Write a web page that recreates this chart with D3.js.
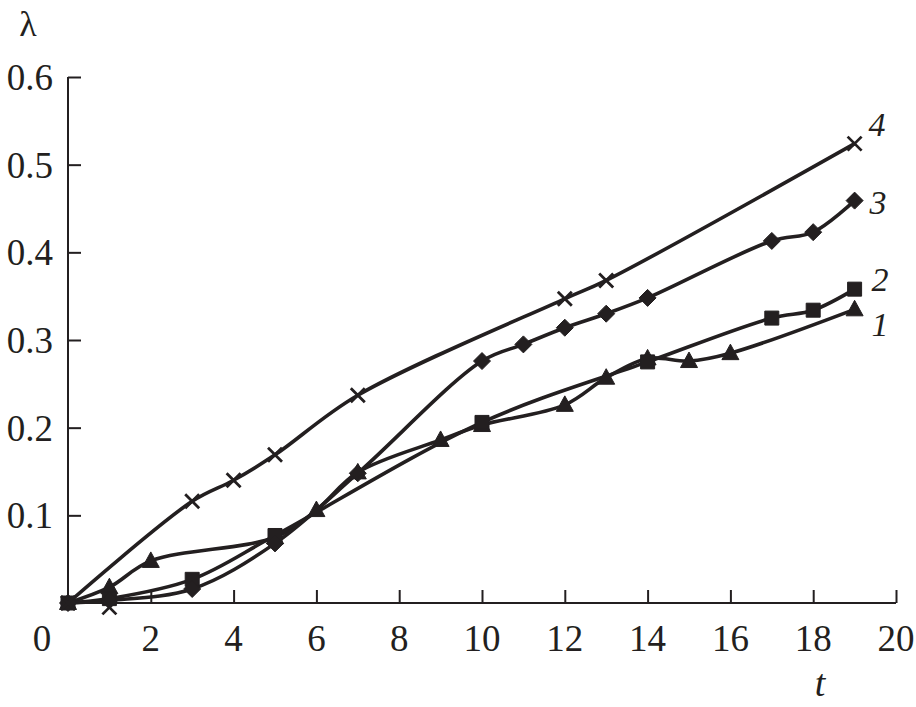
<!DOCTYPE html>
<html>
<head>
<meta charset="utf-8">
<script src="https://cdn.jsdelivr.net/npm/d3@7"></script>
<style>
  html, body { margin: 0; padding: 0; background: #fff; }
</style>
</head>
<body>
<div id="chart"></div>
<script>
// values
const t1 = [0, 1, 2, 5, 6, 7, 9, 10, 12, 13, 14, 15, 16, 19];
const y1 = [0, 0.018, 0.048, 0.075, 0.106, 0.149, 0.186, 0.203, 0.226, 0.257, 0.279, 0.276, 0.285, 0.335];

const t2 = [0, 1, 3, 5, 10, 14, 17, 18, 19];
const y2 = [0, 0.005, 0.027, 0.077, 0.206, 0.275, 0.325, 0.334, 0.358];

const t3 = [0, 1, 3, 5, 7, 10, 11, 12, 13, 14, 17, 18, 19];
const y3 = [0, 0.003, 0.016, 0.068, 0.148, 0.276, 0.295, 0.314, 0.33, 0.348, 0.413, 0.423, 0.459];

const t4 = [0, 3, 4, 5, 7, 12, 13, 19];
const y4 = [0, 0.116, 0.14, 0.169, 0.237, 0.347, 0.368, 0.524];
// stray cross marker sitting on the axis
const t4Extra = [1];
const y4Extra = [-0.005];

const xTicks = [2, 4, 6, 8, 10, 12, 14, 16, 18, 20];
const yTicks = [0.1, 0.2, 0.3, 0.4, 0.5, 0.6];
const seriesNames = ['1', '2', '3', '4'];

const width = 916, height = 707;
const x = d3.scaleLinear().domain([0, 20]).range([68, 896]);
const y = d3.scaleLinear().domain([0, 0.6]).range([603, 77]);
const ink = '#231f20';
const serif = "'Liberation Serif', 'Times New Roman', Times, 'DejaVu Serif', serif";

const svg = d3.select('#chart').append('svg')
    .attr('width', width)
    .attr('height', height)
    .style('font-family', serif);

// axes, ticks point inward
const xAxis = svg.append('g')
    .attr('transform', `translate(0,${y(0)})`)
    .call(d3.axisTop(x).tickValues(xTicks).tickSize(13).tickFormat(''));
const yAxis = svg.append('g')
    .attr('transform', `translate(${x(0)},0)`)
    .call(d3.axisRight(y).tickValues(yTicks).tickSize(13).tickFormat(''));
xAxis.select('.domain').attr('d', `M${x(0)},0H${x(20)}`);
yAxis.select('.domain').attr('d', `M0,${y(0)}V${y(0.6)}`);
[xAxis, yAxis].forEach(g => {
    g.select('.domain').attr('stroke', ink).attr('stroke-width', 2);
    g.selectAll('.tick line').attr('stroke', ink).attr('stroke-width', 2);
});

function label(xp, yp, txt, size, anchor, italic) {
    return svg.append('text')
        .attr('x', xp).attr('y', yp)
        .attr('text-anchor', anchor)
        .attr('font-family', serif)
        .attr('font-size', size)
        .attr('font-style', italic ? 'italic' : 'normal')
        .attr('fill', ink)
        .text(txt);
}

// tick labels
xTicks.forEach(d => label(x(d), 651, d, 37, 'middle'));
label(42, 651, '0', 37, 'middle');
yTicks.forEach(d => label(53, y(d) + 13, d.toFixed(1), 37, 'end'));

// axis titles
label(28, 36, 'λ', 36, 'middle');
label(820, 696, 't', 38, 'middle', true);

// lines
const line = d3.line()
    .x(d => x(d[0]))
    .y(d => y(d[1]))
    .curve(d3.curveCatmullRom.alpha(0.5));

const series = [
    { t: t1, v: y1, sym: 'triangle' },
    { t: t2, v: y2, sym: 'square' },
    { t: t3, v: y3, sym: 'diamond' },
    { t: t4, v: y4, sym: 'cross' }
];

series.forEach(s => {
    const pts = s.t.map((t, i) => [t, s.v[i]]);
    svg.append('path')
        .datum(pts)
        .attr('d', line)
        .attr('fill', 'none')
        .attr('stroke', ink)
        .attr('stroke-width', 3.6);
});

const shapes = {
    triangle: 'M0,-9L8.5,6.5L-8.5,6.5Z',
    square: 'M-7,-7H7V7H-7Z',
    diamond: 'M0,-8.5L8.5,0L0,8.5L-8.5,0Z',
    cross: 'M-7,-7L7,7M-7,7L7,-7'
};

function drawMarkers(s, pts) {
    const isCross = s.sym === 'cross';
    svg.append('g').selectAll('path').data(pts).join('path')
        .attr('d', shapes[s.sym])
        .attr('transform', d => `translate(${x(d[0])},${y(d[1])})`)
        .attr('fill', isCross ? 'none' : ink)
        .attr('stroke', ink)
        .attr('stroke-width', isCross ? 2.8 : 1);
}

series.forEach(s => drawMarkers(s, s.t.map((t, i) => [t, s.v[i]])));
drawMarkers(series[3], t4Extra.map((t, i) => [t, y4Extra[i]]));

// series numbers at line ends
const labelPos = [[880, 336], [880, 291], [878, 214], [877, 136]];
seriesNames.forEach((n, i) => label(labelPos[i][0], labelPos[i][1], n, 34, 'middle', true));
</script>
</body>
</html>
